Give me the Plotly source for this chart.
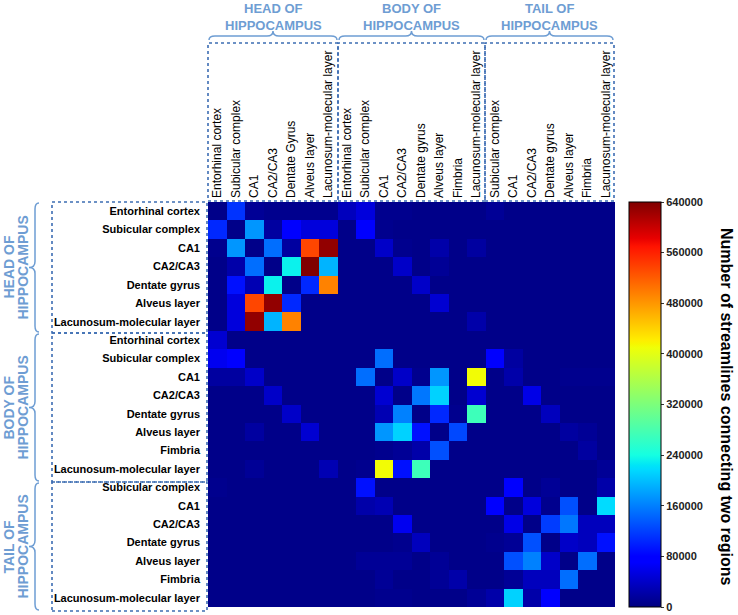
import numpy as np
import plotly.graph_objects as go

# ---------------- data ----------------
col_head = ["Entorhinal cortex", "Subicular complex", "CA1", "CA2/CA3", "Dentate Gyrus",
            "Alveus layer", "Lacunosum-molecular layer"]
col_body = ["Entorhinal cortex", "Subicular complex", "CA1", "CA2/CA3", "Dentate gyrus",
            "Alveus layer", "Fimbria", "Lacunosum-molecular layer"]
col_tail = ["Subicular complex", "CA1", "CA2/CA3", "Dentate gyrus", "Alveus layer",
            "Fimbria", "Lacunosum-molecular layer"]

row_head = ["Entorhinal cortex", "Subicular complex", "CA1", "CA2/CA3", "Dentate gyrus",
            "Alveus layer", "Lacunosum-molecular layer"]
row_body = ["Entorhinal cortex", "Subicular complex", "CA1", "CA2/CA3", "Dentate gyrus",
            "Alveus layer", "Fimbria", "Lacunosum-molecular layer"]
row_tail = ["Subicular complex", "CA1", "CA2/CA3", "Dentate gyrus", "Alveus layer",
            "Fimbria", "Lacunosum-molecular layer"]

group_line1 = ["HEAD OF", "BODY OF", "TAIL OF"]
group_line2 = ["HIPPOCAMPUS", "HIPPOCAMPUS", "HIPPOCAMPUS"]

colorbar_ticks = [0, 80000, 160000, 240000, 320000, 400000, 480000, 560000, 640000]
colorbar_title = "Number of streamlines connecting two regions"

# rows: head (7)
head_rows = [
    [5000, 112000, 12000, 8000, 8000, 8000, 8000, 34000, 51000, 8000, 8000, 5000, 5000, 5000, 5000, 12000, 5000, 5000, 5000, 5000, 5000, 5000],
    [105000, 5000, 174000, 18000, 75000, 51000, 51000, 5000, 75000, 8000, 5000, 5000, 5000, 5000, 5000, 5000, 5000, 5000, 5000, 5000, 5000, 5000],
    [8000, 174000, 5000, 149000, 18000, 535000, 630000, 5000, 5000, 40000, 8000, 5000, 23000, 5000, 18000, 5000, 5000, 5000, 5000, 5000, 5000, 5000],
    [5000, 23000, 149000, 5000, 232000, 640000, 193000, 5000, 5000, 5000, 40000, 5000, 12000, 5000, 5000, 5000, 5000, 5000, 5000, 5000, 5000, 5000],
    [5000, 90000, 28000, 232000, 5000, 105000, 494000, 5000, 5000, 5000, 5000, 40000, 5000, 5000, 5000, 5000, 5000, 5000, 5000, 5000, 5000, 5000],
    [5000, 51000, 535000, 630000, 105000, 5000, 5000, 5000, 5000, 5000, 5000, 5000, 45000, 5000, 5000, 5000, 5000, 5000, 5000, 5000, 5000, 5000],
    [5000, 51000, 630000, 193000, 494000, 5000, 5000, 5000, 5000, 5000, 5000, 5000, 5000, 5000, 23000, 5000, 5000, 5000, 5000, 5000, 5000, 5000],
]
# rows: body (8)
body_rows = [
    [45000, 5000, 5000, 5000, 5000, 5000, 5000, 5000, 5000, 5000, 5000, 5000, 5000, 5000, 5000, 5000, 5000, 5000, 5000, 5000, 5000, 5000],
    [62000, 75000, 5000, 5000, 5000, 5000, 5000, 5000, 5000, 149000, 5000, 5000, 5000, 5000, 5000, 75000, 18000, 5000, 5000, 5000, 5000, 5000],
    [18000, 18000, 40000, 5000, 5000, 5000, 5000, 5000, 149000, 5000, 40000, 8000, 174000, 5000, 412000, 5000, 23000, 5000, 5000, 8000, 8000, 8000],
    [5000, 5000, 5000, 40000, 5000, 5000, 5000, 5000, 5000, 45000, 5000, 155000, 212000, 5000, 45000, 5000, 5000, 57000, 5000, 5000, 5000, 5000],
    [5000, 5000, 5000, 5000, 40000, 5000, 5000, 5000, 5000, 28000, 161000, 5000, 105000, 8000, 271000, 5000, 5000, 5000, 34000, 5000, 5000, 5000],
    [5000, 5000, 18000, 5000, 5000, 45000, 5000, 5000, 5000, 174000, 212000, 90000, 5000, 125000, 5000, 5000, 5000, 5000, 5000, 18000, 12000, 5000],
    [5000, 5000, 5000, 5000, 5000, 5000, 5000, 5000, 5000, 8000, 12000, 23000, 130000, 5000, 5000, 5000, 5000, 5000, 5000, 5000, 18000, 5000],
    [5000, 5000, 12000, 5000, 5000, 5000, 28000, 5000, 8000, 412000, 90000, 271000, 5000, 5000, 5000, 5000, 5000, 5000, 5000, 5000, 5000, 12000],
]
# rows: tail (7)
tail_rows = [
    [8000, 5000, 5000, 5000, 5000, 5000, 5000, 5000, 90000, 5000, 5000, 5000, 5000, 5000, 5000, 5000, 75000, 5000, 12000, 5000, 5000, 23000],
    [5000, 5000, 5000, 5000, 5000, 5000, 5000, 5000, 23000, 28000, 5000, 5000, 5000, 5000, 5000, 75000, 5000, 51000, 8000, 130000, 5000, 218000],
    [5000, 5000, 5000, 5000, 5000, 5000, 5000, 5000, 5000, 5000, 62000, 5000, 5000, 5000, 5000, 5000, 57000, 5000, 118000, 155000, 34000, 34000],
    [5000, 5000, 5000, 5000, 5000, 5000, 5000, 5000, 5000, 5000, 8000, 34000, 5000, 5000, 5000, 8000, 12000, 130000, 5000, 40000, 34000, 90000],
    [5000, 5000, 5000, 5000, 5000, 5000, 5000, 5000, 12000, 12000, 12000, 5000, 12000, 5000, 5000, 5000, 130000, 161000, 40000, 5000, 149000, 5000],
    [5000, 5000, 5000, 5000, 5000, 5000, 5000, 5000, 5000, 12000, 5000, 5000, 12000, 23000, 5000, 5000, 12000, 34000, 34000, 149000, 5000, 5000],
    [5000, 5000, 5000, 5000, 5000, 5000, 5000, 5000, 5000, 8000, 8000, 5000, 5000, 5000, 12000, 23000, 212000, 23000, 75000, 5000, 5000, 5000],
]

# ---------------- build ----------------
col_labels = col_head + col_body + col_tail
row_labels = row_head + row_body + row_tail
z = head_rows + body_rows + tail_rows
n_cols = len(col_labels)
n_rows = len(row_labels)

# matplotlib-style "jet" colour scale
jet_r = [(0, 0), (0.35, 0), (0.66, 1), (0.89, 1), (1, 0.5)]
jet_g = [(0, 0), (0.125, 0), (0.375, 1), (0.64, 1), (0.91, 0), (1, 0)]
jet_b = [(0, 0.5), (0.11, 1), (0.34, 1), (0.65, 0), (1, 0)]
stops = sorted(set([p for p, _ in jet_r + jet_g + jet_b]))
def chan(seg, s):
    return float(np.interp(s, [p for p, _ in seg], [v for _, v in seg]))
jet = [[s, "rgb(%d,%d,%d)" % (round(255 * chan(jet_r, s)), round(255 * chan(jet_g, s)),
                               round(255 * chan(jet_b, s)))] for s in stops]

# plot-area geometry in pixels
L, R, T, B = 208, 615, 202, 607
W, H = 738, 615

def pxx(x):
    return (x - L) / (R - L)

def pxy(y):
    return (B - y) / (B - T)

fig = go.Figure(go.Heatmap(
    z=z, x=list(range(n_cols)), y=list(range(n_rows)),
    zmin=0, zmax=640000, colorscale=jet,
    colorbar=dict(
        x=pxx(629), xanchor="left", xpad=0, y=0.5, yanchor="middle", ypad=0,
        len=1.0, lenmode="fraction", thickness=32, thicknessmode="pixels",
        outlinecolor="black", outlinewidth=1,
        tickvals=colorbar_ticks, tickformat="d", ticks="outside", ticklen=3,
        tickcolor="#333", tickfont=dict(size=11, color="#222", weight="bold"),
    ),
    hoverongaps=False,
))

fig.update_layout(
    width=W, height=H,
    margin=dict(l=L, r=W - R, t=T, b=H - B, pad=0),
    paper_bgcolor="white", plot_bgcolor="white",
    font=dict(family="Liberation Sans, Arial, sans-serif", color="black"),
    xaxis=dict(side="top", tickmode="array", tickvals=list(range(n_cols)), ticktext=col_labels,
               tickangle=-90, tickfont=dict(size=12, color="black"), range=[-0.5, n_cols - 0.5],
               showgrid=False, zeroline=False, ticks="", ticklabelstandoff=3),
    yaxis=dict(tickmode="array", tickvals=list(range(n_rows)), ticktext=row_labels,
               tickfont=dict(size=11, color="black", weight="bold"), range=[n_rows - 0.5, -0.5],
               showgrid=False, zeroline=False, ticks="", ticklabelstandoff=7),
)

label_blue = "#6e9dd3"
box_blue = "#3d6db3"
shapes = []
annotations = []

def make_path(pts):
    path = ""
    for p in pts:
        coords = p[1:]
        seg = " ".join("%f,%f" % (pxx(coords[k]), pxy(coords[k + 1]))
                       for k in range(0, len(coords), 2))
        path += "%s %s " % (p[0], seg)
    return path.strip()

# column group boxes and braces (top)
col_bounds = [208, 338, 485, 614]
split_y = 17.3
for i in range(3):
    x0, x1 = col_bounds[i], col_bounds[i + 1]
    shapes.append(dict(type="rect", xref="paper", yref="paper", x0=pxx(x0), x1=pxx(x1),
                       y0=pxy(201), y1=pxy(43), line=dict(color=box_blue, width=1.6, dash="dot")))
    xm = (x0 + x1) / 2
    ye, ym, yt, r = 40, 36, 31, 6
    pts = [("M", x0 + 1, ye), ("Q", x0 + 1, ym, x0 + 1 + r, ym), ("L", xm - r, ym),
           ("Q", xm, ym, xm, yt), ("Q", xm, ym, xm + r, ym), ("L", x1 - 1 - r, ym),
           ("Q", x1 - 1, ym, x1 - 1, ye)]
    shapes.append(dict(type="path", xref="paper", yref="paper", path=make_path(pts),
                       line=dict(color=label_blue, width=1.5)))
    annotations.append(dict(text="<b>%s</b>" % group_line1[i], xref="paper", yref="paper",
                            x=pxx(xm), y=pxy(split_y), xanchor="center", yanchor="bottom",
                            borderpad=0, showarrow=False, font=dict(size=13, color=label_blue)))
    annotations.append(dict(text="<b>%s</b>" % group_line2[i], xref="paper", yref="paper",
                            x=pxx(xm), y=pxy(split_y), xanchor="center", yanchor="top",
                            borderpad=0, showarrow=False, font=dict(size=13, color=label_blue)))

# row group boxes and braces (left)
row_bounds = [202, 333, 482, 611]
for i in range(3):
    y0, y1 = row_bounds[i], row_bounds[i + 1]
    shapes.append(dict(type="rect", xref="paper", yref="paper", x0=pxx(52), x1=pxx(207),
                       y0=pxy(y1), y1=pxy(y0), line=dict(color=box_blue, width=1.6, dash="dot")))
    ymid = (y0 + y1) / 2
    xe, xm, xt, r = 39, 35, 29, 6
    pts = [("M", xe, y0 + 1), ("Q", xm, y0 + 1, xm, y0 + 1 + r), ("L", xm, ymid - r),
           ("Q", xm, ymid, xt, ymid), ("Q", xm, ymid, xm, ymid + r), ("L", xm, y1 - 1 - r),
           ("Q", xm, y1 - 1, xe, y1 - 1)]
    shapes.append(dict(type="path", xref="paper", yref="paper", path=make_path(pts),
                       line=dict(color=label_blue, width=1.5)))
    for txt, xx in ((group_line1[i], 8), (group_line2[i], 22)):
        annotations.append(dict(text="<b>%s</b>" % txt, xref="paper", yref="paper",
                                x=pxx(xx), y=pxy(ymid), xanchor="center", yanchor="middle",
                                textangle=-90, showarrow=False, borderpad=0,
                                font=dict(size=14, color=label_blue)))

# colour bar title (reads top to bottom)
annotations.append(dict(text="<b>%s</b>" % colorbar_title, xref="paper", yref="paper",
                        x=pxx(727), y=pxy(406), xanchor="center", yanchor="middle",
                        textangle=90, showarrow=False, font=dict(size=16, color="black")))

fig.update_layout(shapes=shapes, annotations=annotations)
fig.write_html("out.html", config={"displayModeBar": False},
               post_script="document.body.style.margin='0';document.body.style.padding='0';")
